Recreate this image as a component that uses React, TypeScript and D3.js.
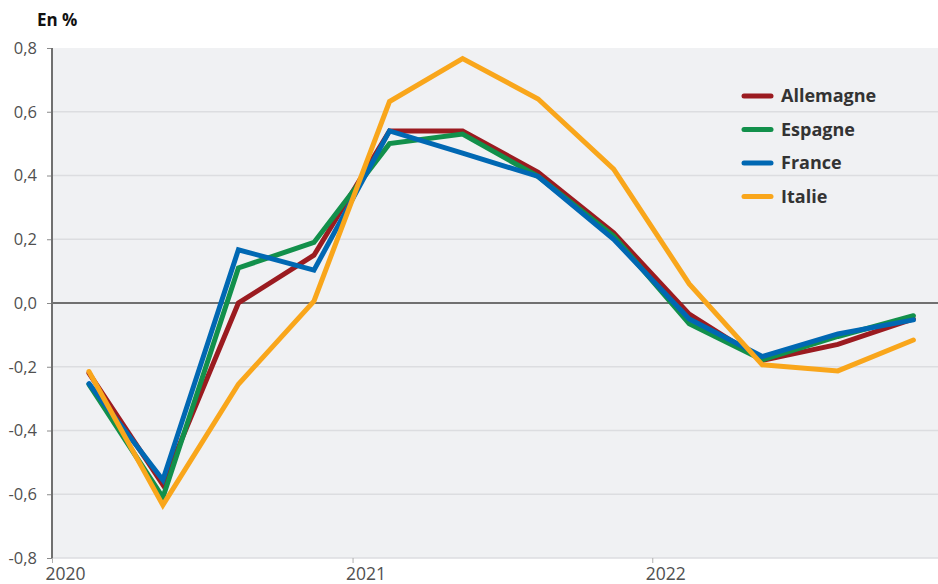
import React, { useEffect, useRef } from 'react';
import * as d3 from 'd3';

// trimestres (milieu de trimestre)
const dates = [
    '2020-02-15', '2020-05-15', '2020-08-15', '2020-11-15',
    '2021-02-15', '2021-05-15', '2021-08-15', '2021-11-15',
    '2022-02-15', '2022-05-15', '2022-08-15', '2022-11-15'
];

const allemagne = [-0.22, -0.57, 0.0, 0.15, 0.54, 0.54, 0.41, 0.22, -0.035, -0.18, -0.13, -0.05];
const espagne = [-0.255, -0.61, 0.11, 0.19, 0.5, 0.53, 0.397, 0.21, -0.065, -0.178, -0.105, -0.04];
const france = [-0.253, -0.555, 0.167, 0.103, 0.54, 0.47, 0.397, 0.2, -0.05, -0.168, -0.097, -0.053];
const italie = [-0.215, -0.634, -0.255, 0.006, 0.632, 0.767, 0.64, 0.42, 0.06, -0.194, -0.213, -0.116];

const seriesNames = ['Allemagne', 'Espagne', 'France', 'Italie'];
const seriesValues = [allemagne, espagne, france, italie];
const seriesColors = ['#9b1b20', '#12904b', '#0068b3', '#f9a61b'];

const yTicks = [0.8, 0.6, 0.4, 0.2, 0, -0.2, -0.4, -0.6, -0.8];
const xTicks = ['2020-01-01', '2021-01-01', '2022-01-01'];

const App = () => {
    const chartRef = useRef(null);

    useEffect(() => {
        const width = 938;
        const height = 584;
        const margin = { top: 48, right: 0, bottom: 26, left: 52 };
        const font = '"Open Sans", "Noto Sans", sans-serif';

        d3.select(chartRef.current).selectAll('*').remove();

        const svg = d3
            .select(chartRef.current)
            .append('svg')
            .attr('width', width)
            .attr('height', height)
            .style('display', 'block')
            .style('font-family', font);

        const parse = d3.timeParse('%Y-%m-%d');

        const x = d3
            .scaleTime()
            .domain([parse('2020-01-01'), parse('2023-01-01')])
            .range([margin.left, margin.left + 900]);

        const y = d3
            .scaleLinear()
            .domain([-0.8, 0.8])
            .range([height - margin.bottom, margin.top]);

        // fond de la zone de tracé
        svg
            .append('rect')
            .attr('x', margin.left)
            .attr('y', margin.top)
            .attr('width', width - margin.left - margin.right)
            .attr('height', y(-0.8) - margin.top)
            .attr('fill', '#f0f1f3');

        // grille horizontale
        svg
            .append('g')
            .selectAll('line')
            .data(yTicks.filter((d) => d !== 0 && d !== 0.8))
            .enter()
            .append('line')
            .attr('x1', margin.left)
            .attr('x2', width)
            .attr('y1', (d) => y(d))
            .attr('y2', (d) => y(d))
            .attr('stroke', '#dcdde0')
            .attr('stroke-width', 1.5);

        // axe Y
        const fmt = (d) => d3.format('.1f')(d).replace('.', ',').replace('−', '-');
        const yAxis = svg
            .append('g')
            .attr('transform', `translate(${margin.left},0)`)
            .call(d3.axisLeft(y).tickValues(yTicks).tickSize(5).tickPadding(10).tickFormat(fmt));
        yAxis.select('.domain').remove();
        yAxis.selectAll('line').attr('stroke', '#8a8a8a');
        yAxis
            .selectAll('text')
            .attr('fill', '#505050')
            .attr('font-size', 16.5)
            .style('font-family', font);

        // axe X
        const xAxis = svg
            .append('g')
            .attr('transform', `translate(0,${y(-0.8)})`)
            .call(d3.axisBottom(x).tickValues(xTicks.map(parse)).tickSize(5).tickPadding(5).tickFormat(d3.timeFormat('%Y')));
        xAxis.select('.domain').remove();
        xAxis.selectAll('line').attr('stroke', '#b0b0b0');
        xAxis
            .selectAll('text')
            .attr('fill', '#505050')
            .attr('font-size', 17.5)
            .attr('dx', 13)
            .style('font-family', font);

        // ligne zéro
        svg
            .append('line')
            .attr('x1', margin.left)
            .attr('x2', width)
            .attr('y1', y(0))
            .attr('y2', y(0))
            .attr('stroke', '#707070')
            .attr('stroke-width', 2);

        // ligne verticale de l'axe
        svg
            .append('line')
            .attr('x1', margin.left)
            .attr('x2', margin.left)
            .attr('y1', margin.top)
            .attr('y2', y(-0.8))
            .attr('stroke', '#707070')
            .attr('stroke-width', 2);

        // courbes
        const line = d3
            .line()
            .x((d) => x(parse(d.date)))
            .y((d) => y(d.value));

        seriesValues.forEach((values, i) => {
            const data = values.map((v, j) => ({ date: dates[j], value: v }));
            svg
                .append('path')
                .datum(data)
                .attr('d', line)
                .attr('fill', 'none')
                .attr('stroke', seriesColors[i])
                .attr('stroke-width', 5)
                .attr('stroke-linejoin', 'miter')
                .attr('stroke-linecap', 'round');
        });

        // légende
        const legend = svg
            .append('g')
            .selectAll('g')
            .data(seriesNames)
            .enter()
            .append('g')
            .attr('transform', (d, i) => `translate(742,${96 + i * 33.5})`);
        legend
            .append('line')
            .attr('x1', 2)
            .attr('x2', 29)
            .attr('stroke', (d, i) => seriesColors[i])
            .attr('stroke-width', 5)
            .attr('stroke-linecap', 'round');
        legend
            .append('text')
            .attr('x', 39)
            .attr('dy', '0.35em')
            .attr('font-size', 18)
            .attr('font-weight', 'bold')
            .attr('fill', '#333')
            .text((d) => d);

        // titre unité
        svg
            .append('text')
            .attr('x', 37)
            .attr('y', 26)
            .attr('font-size', 17)
            .attr('font-weight', 'bold')
            .attr('fill', '#111')
            .text('En %');
    }, []);

    return <div ref={chartRef} style={{ position: 'absolute', left: 0, top: 0 }}></div>;
};

export default App;
